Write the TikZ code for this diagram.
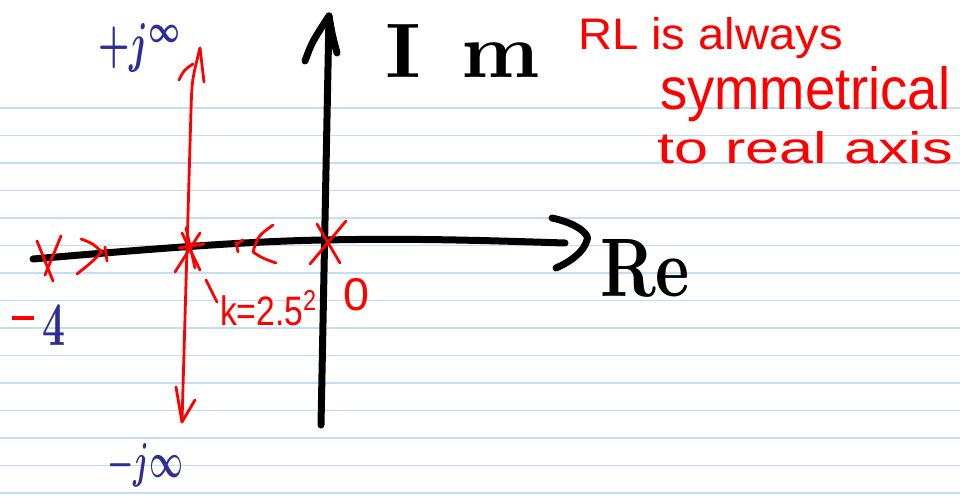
\documentclass[tikz,border=0pt]{standalone}
\usepackage{fontspec}
\setsansfont{Liberation Sans}
\definecolor{penred}{RGB}{255,0,0}
\definecolor{penblue}{RGB}{45,45,150}
\definecolor{rulecol}{RGB}{195,220,248}
\newcommand{\fitbox}[3]{\resizebox{#1}{#2}{#3}}
\tikzset{
  ruleline/.style={draw=rulecol, line width=1.3pt},
  axisline/.style={draw=black, line width=7pt, line cap=round, line join=round},
  redpen/.style={draw=penred, line width=2.8pt, line cap=round, line join=round},
  txt/.style={inner sep=0pt, outer sep=0pt, anchor=base west},
  redtxt/.style={txt, text=penred, font=\sffamily},
  bluetxt/.style={txt, text=penblue},
}
\begin{document}
\begin{tikzpicture}[x=1pt,y=-1pt]
\path[use as bounding box, fill=white] (0,0) rectangle (960,502);
% ruled paper
\foreach \k in {0,...,14} \draw[ruleline] (0,{108+27.5*\k}) -- (960,{108+27.5*\k});

% real axis
\coordinate (reStart) at (33,259);
\coordinate (origin) at (325,240);
\coordinate (reEnd) at (565,243);
\draw[axisline] (reStart) .. controls (150,249) and (250,241) .. (origin) .. controls (420,238) and (500,241) .. (reEnd);
\coordinate (reTip) at (587,240);
\draw[axisline] (552,218) .. controls (580,224) and (590,236) .. (reTip) .. controls (584,252) and (570,262) .. (556,268);

% imaginary axis
\coordinate (imBottom) at (321,425);
\coordinate (imTop) at (329,16);
\draw[axisline] (imBottom) -- (imTop);
\draw[axisline] (305,61) .. controls (312,42) .. (imTop) .. controls (332,34) .. (337,53);

% axis labels
\node[txt] (lblIm) at (385,78) {\fitbox{155pt}{53pt}{\bfseries I\hspace{0.5em}m}};
\node[txt] (lblRe) at (600,297) {\fitbox{90pt}{57pt}{\bfseries Re}};

% red root locus on imaginary direction
\coordinate (jTop) at (200,48);
\coordinate (jBot) at (182,422);
\draw[redpen] (jBot) -- (191,110) .. controls (192,80) .. (jTop);
\draw[redpen] (179,80) .. controls (184,70) .. (193,64);
\draw[redpen] (jTop) -- (204,82);
\draw[redpen] (176,387) -- (jBot) -- (195,400);

% pole at -4
\draw[redpen] (37,241) -- (53,281);
\draw[redpen] (61,236) -- (45,275);
% arrow to the right
\draw[redpen] (81,239) .. controls (92,243) .. (102,252) .. controls (92,262) .. (77,274);
\draw[redpen] (105,247) -- (107,261);
% breakaway point (double pole)
\draw[redpen] (182,233) -- (200,270);
\draw[redpen] (200,233) -- (175,272);
\draw[redpen] (186,228) -- (195,268);
\draw[redpen] (179,248) -- (204,244);
% arrow to the left
\draw[redpen] (273,225) .. controls (258,236) .. (253,252) .. controls (262,258) .. (276,263);
\draw[redpen] (236,242) -- (238,252);
\draw[redpen] (237,244) -- (243,240);
% pole at origin
\draw[redpen] (317,224) -- (340,263);
\draw[redpen] (346,221) -- (310,264);
% marker for k
\draw[redpen] (206,280) -- (217,302);

% labels
\node[redtxt] (lblK) at (220,325) {\fitbox{98pt}{35pt}{k=2.5\textsuperscript{2}}};
\node[redtxt] (lblZero) at (343,311) {\fitbox{26pt}{32pt}{0}};
\node[txt] (lblFour) at (12,345) {\fitbox{53pt}{40pt}{\textcolor{penred}{\rule[0.4em]{0.55em}{0.07em}}\hspace{0.2em}\textcolor{penblue}{\boldmath$4$}}};
\node[bluetxt] (lblPlusJ) at (98,62) {\fitbox{84pt}{38pt}{\boldmath$+j^{\infty}$}};
\node[bluetxt] (lblMinusJ) at (107,477) {\fitbox{76pt}{34pt}{\boldmath$-j\infty$}};

% note
\node[redtxt] (note1) at (578,50) {\fitbox{265pt}{32pt}{RL is always}};
\node[redtxt] (note2) at (660,110) {\fitbox{290pt}{43pt}{symmetrical}};
\node[redtxt] (note3) at (657,164) {\fitbox{296pt}{32pt}{to real axis}};
\end{tikzpicture}
\end{document}
